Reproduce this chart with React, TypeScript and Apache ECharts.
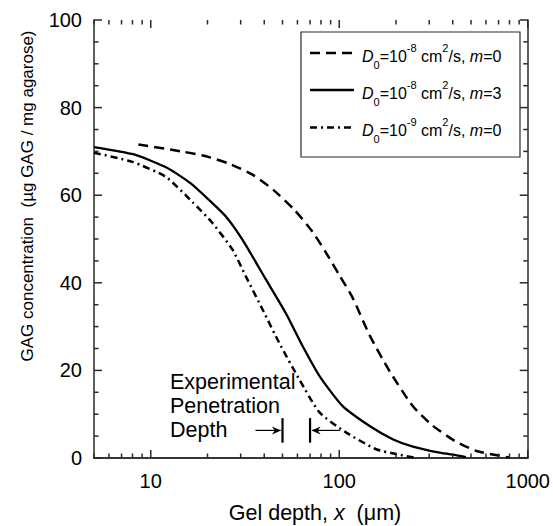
import React, { useEffect, useRef } from 'react';
import * as echarts from 'echarts';

// ---- data ----
const xMajor = [10, 100, 1000];
const xMinor = [5, 6, 7, 8, 9, 20, 30, 40, 50, 60, 70, 80, 90, 200, 300, 400, 500, 600, 700, 800, 900];
const yMin = 0;
const yMax = 100;
const yInterval = 20;
const yMinorStep = 5;

const seriesNames = ['D0=1e-8 cm2/s, m=0', 'D0=1e-8 cm2/s, m=3', 'D0=1e-9 cm2/s, m=0'];

const dashedX = [8.6, 15, 20, 26, 35, 45, 58, 72, 85, 100, 118, 145, 185, 246, 313, 410, 534, 711, 800];
const dashedY = [71.6, 69.9, 68.8, 67.2, 64.6, 61.1, 56.6, 51.7, 46.9, 41.8, 36.5, 28, 19.8, 11.8, 7.4, 3.9, 1.6, 0.5, 0.1];

const solidX = [5, 8.15, 12.25, 16.3, 20.4, 25.1, 30.7, 40.5, 52, 64, 78.6, 104, 145, 192, 246, 341, 420, 470];
const solidY = [71, 69.3, 66.2, 62.7, 58.9, 55.1, 49.8, 41, 33.1, 25.5, 18.7, 11.9, 7.3, 4.3, 2.6, 1.2, 0.6, 0.2];

const dashDotX = [5, 8, 12, 16.6, 21.3, 27.2, 32, 39.2, 48, 61.3, 78.6, 109, 157, 200, 250];
const dashDotY = [69.7, 67.6, 64.2, 58.5, 53.6, 47.5, 41.4, 33.9, 26.3, 18, 10.4, 5.8, 2.0, 0.9, 0.1];

const penetrationDepths = [50, 70];
const arrowY = 6.3;
const barHalf = 2.8;

const FONT = 'Liberation Sans, Arial, Helvetica, sans-serif';
const AX = '#2a2a2a';
const NB = '\u00a0';

function pairs(xs: number[], ys: number[]) {
  return xs.map((x, i) => [x, ys[i]]);
}

const legendRich = {
  n: { fontSize: 16, fontFamily: FONT, fill: '#000', lineHeight: 28, verticalAlign: 'middle' },
  i: { fontSize: 16, fontFamily: FONT, fontStyle: 'italic', fill: '#000', lineHeight: 28, verticalAlign: 'middle' },
  sup: { fontSize: 11, fontFamily: FONT, fill: '#000', lineHeight: 28, verticalAlign: 'top' },
  sub: { fontSize: 11, fontFamily: FONT, fill: '#000', lineHeight: 28, verticalAlign: 'bottom' },
};

const legendTexts = [
  '{i|D}{sub|0}{n|=10}{sup|-8}{n| cm}{sup|2}{n|/s, }{i|m}{n|=0}',
  '{i|D}{sub|0}{n|=10}{sup|-8}{n| cm}{sup|2}{n|/s, }{i|m}{n|=3}',
  '{i|D}{sub|0}{n|=10}{sup|-9}{n| cm}{sup|2}{n|/s, }{i|m}{n|=0}',
];
const legendDashes: any[] = [[10, 6], null, [7, 4, 2, 4]];

export default function App() {
  const ref = useRef<HTMLDivElement>(null);
  useEffect(() => {
    if (!ref.current) return;
    const chart = echarts.init(ref.current, undefined, { renderer: 'svg' });
    const lineBase = { type: 'line', symbol: 'none', smooth: 0.2, xAxisIndex: 0, yAxisIndex: 0 };
    chart.setOption({
      animation: false,
      backgroundColor: '#fff',
      grid: { left: 94, right: 24, top: 20, bottom: 68, containLabel: false },
      xAxis: [
        {
          type: 'log', logBase: 10, min: 5, max: 1000, position: 'bottom',
          axisLine: { show: true, lineStyle: { color: AX, width: 1.5 } },
          axisTick: { show: false },
          axisLabel: {
            show: true, fontSize: 20, fontFamily: FONT, color: '#000', margin: 13,
            formatter: (v: number) => {
              const r = Math.round(v);
              return xMajor.indexOf(r) >= 0 ? String(r) : '';
            },
          },
          splitLine: { show: false },
        },
        {
          type: 'log', logBase: 10, min: 5, max: 1000, position: 'top',
          axisLine: { show: true, lineStyle: { color: AX, width: 1.5 } },
          axisTick: { show: false }, axisLabel: { show: false }, splitLine: { show: false },
        },
      ],
      yAxis: [
        {
          type: 'value', min: yMin, max: yMax, interval: yInterval, position: 'left',
          axisLine: { show: true, lineStyle: { color: AX, width: 1.5 } },
          axisTick: { show: false },
          axisLabel: { show: true, fontSize: 20, fontFamily: FONT, color: '#000', margin: 12 },
          splitLine: { show: false },
        },
        {
          type: 'value', min: yMin, max: yMax, interval: yInterval, position: 'right',
          axisLine: { show: true, lineStyle: { color: AX, width: 1.5 } },
          axisTick: { show: false }, axisLabel: { show: false }, splitLine: { show: false },
        },
      ],
      series: [
        { ...lineBase, name: seriesNames[0], data: pairs(dashedX, dashedY), lineStyle: { color: '#000', width: 2.5, type: [10, 6] } },
        { ...lineBase, name: seriesNames[1], data: pairs(solidX, solidY), lineStyle: { color: '#000', width: 2.3, type: 'solid' } },
        { ...lineBase, name: seriesNames[2], data: pairs(dashDotX, dashDotY), lineStyle: { color: '#000', width: 2.5, type: [7, 4, 2, 4] } },
      ],
    });

    const graphics: any[] = [];
    const toPx = (x: number, y: number) => chart.convertToPixel({ xAxisIndex: 0, yAxisIndex: 0 }, [x, y]) as number[];
    const [gl, gb] = toPx(5, yMin);
    const [gr, gt] = toPx(1000, yMax);
    const TW = 1.5;
    const tickFill = { fill: AX };

    // x ticks (bottom and top, inward) as thin rects
    const xTick = (v: number, len: number) => {
      const px = toPx(v, yMin)[0];
      graphics.push({ type: 'rect', z: 50, shape: { x: px - TW / 2, y: gb - len, width: TW, height: len }, style: tickFill });
      graphics.push({ type: 'rect', z: 50, shape: { x: px - TW / 2, y: gt, width: TW, height: len }, style: tickFill });
    };
    xMajor.forEach((v) => xTick(v, 8));
    xMinor.forEach((v) => xTick(v, 4.5));
    // y ticks (left and right, inward)
    for (let v = yMin; v <= yMax; v += yMinorStep) {
      const py = toPx(5, v)[1];
      const len = v % yInterval === 0 ? 8 : 4.5;
      graphics.push({ type: 'rect', z: 50, shape: { x: gl, y: py - TW / 2, width: len, height: TW }, style: tickFill });
      graphics.push({ type: 'rect', z: 50, shape: { x: gr - len, y: py - TW / 2, width: len, height: TW }, style: tickFill });
    }

    // legend box
    graphics.push({ type: 'rect', shape: { x: 301, y: 32, width: 219, height: 125 }, style: { fill: '#fff', stroke: AX, lineWidth: 1.2 }, z: 100 });
    const rowsY = [53, 90, 127.5];
    rowsY.forEach((ry, k) => {
      graphics.push({
        type: 'line', shape: { x1: 310, y1: ry, x2: 354, y2: ry },
        style: { stroke: '#000', lineWidth: 2.5, lineDash: legendDashes[k] || undefined }, z: 101,
      });
      graphics.push({
        type: 'text', x: 362, y: ry + 3,
        style: { text: legendTexts[k], rich: legendRich, verticalAlign: 'middle', align: 'left' }, z: 101,
      });
    });

    // y axis title
    graphics.push({
      type: 'text', x: 27, y: 196, rotation: Math.PI / 2,
      style: { text: 'GAG concentration' + NB + NB + '(\u00b5g GAG / mg agarose)', fontSize: 17, fontFamily: FONT, fill: '#000', align: 'center', verticalAlign: 'middle' },
    });
    // x axis title
    graphics.push({
      type: 'text', x: 315, y: 513,
      style: {
        text: '{n|Gel depth, }{i|x}{n|' + NB + NB + '(\u03bcm)}',
        rich: {
          n: { fontSize: 21.5, fontFamily: FONT, fill: '#000' },
          i: { fontSize: 21.5, fontFamily: FONT, fontStyle: 'italic', fill: '#000' },
        },
        align: 'center', verticalAlign: 'middle',
      },
    });
    // annotation
    graphics.push({
      type: 'text', x: 170, y: 406,
      style: { text: 'Experimental\nPenetration\nDepth', fontSize: 21.5, lineHeight: 24, fontFamily: FONT, fill: '#000', align: 'left', verticalAlign: 'middle' },
    });

    // arrows at penetration depths
    const p1 = toPx(penetrationDepths[0], arrowY);
    const p2 = toPx(penetrationDepths[1], arrowY);
    const top = toPx(5, arrowY + barHalf)[1];
    const bot = toPx(5, arrowY - barHalf)[1];
    const ay = p1[1];
    const aLen = 27;
    const hL = 9, hW = 4;
    [p1[0], p2[0]].forEach((bx) => {
      graphics.push({ type: 'line', shape: { x1: bx, y1: top, x2: bx, y2: bot }, style: { stroke: '#000', lineWidth: 2.2 } });
    });
    graphics.push({ type: 'line', shape: { x1: p1[0] - aLen, y1: ay, x2: p1[0] - 2, y2: ay }, style: { stroke: '#000', lineWidth: 1.2 } });
    graphics.push({ type: 'polygon', shape: { points: [[p1[0] - 1.5, ay], [p1[0] - 1.5 - hL, ay - hW], [p1[0] - 1.5 - hL * 0.7, ay], [p1[0] - 1.5 - hL, ay + hW]] }, style: { fill: '#000' } });
    graphics.push({ type: 'line', shape: { x1: p2[0] + aLen + 3, y1: ay, x2: p2[0] + 2, y2: ay }, style: { stroke: '#000', lineWidth: 1.2 } });
    graphics.push({ type: 'polygon', shape: { points: [[p2[0] + 1.5, ay], [p2[0] + 1.5 + hL, ay - hW], [p2[0] + 1.5 + hL * 0.7, ay], [p2[0] + 1.5 + hL, ay + hW]] }, style: { fill: '#000' } });

    chart.setOption({ graphic: graphics });

    return () => chart.dispose();
  }, []);
  return <div ref={ref} style={{ position: 'absolute', left: 0, top: 0, width: 553, height: 526 }} />;
}
